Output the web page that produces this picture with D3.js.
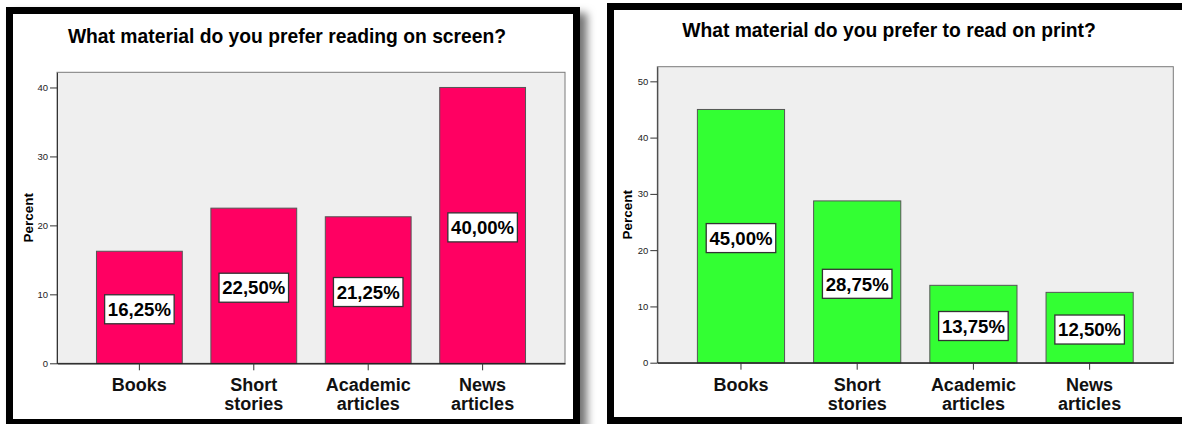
<!DOCTYPE html>
<html>
<head>
<meta charset="utf-8">
<script src="https://cdn.jsdelivr.net/npm/d3@7"></script>
<style>
  html, body { margin: 0; padding: 0; background: #fff; }
  svg { display: block; font-family: "Liberation Sans", Arial, sans-serif; }
</style>
</head>
<body>
<svg id="chart" width="1182" height="424"></svg>
<script>
// Survey answers, percent of respondents
const categories = ["Books", "Short stories", "Academic articles", "News articles"];
const screenPercent = [16.25, 22.5, 21.25, 40.0];
const printPercent = [45.0, 28.75, 13.75, 12.5];
const screenTicks = [0, 10, 20, 30, 40];
const printTicks = [0, 10, 20, 30, 40, 50];
const screenAxisMax = 42.2;
const printAxisMax = 52.6;
const titles = [
  "What material do you prefer reading on screen?",
  "What material do you prefer to read on print?"
];
const yLabel = "Percent";

// Comma as decimal separator for the value labels
const locale = d3.formatLocale({ decimal: ",", thousands: ".", grouping: [3], currency: ["", ""] });
const fmt = v => locale.format(".2f")(v) + "%";

const svg = d3.select("#chart");

const defs = svg.append("defs");
const shadow = defs.append("filter").attr("id", "panelShadow")
  .attr("x", "-10%").attr("y", "-10%").attr("width", "130%").attr("height", "130%");
shadow.append("feDropShadow")
  .attr("dx", 7).attr("dy", 6).attr("stdDeviation", 4)
  .attr("flood-color", "#000").attr("flood-opacity", 0.55);

const panels = [
  {
    values: screenPercent, ticks: screenTicks, yMax: screenAxisMax, title: titles[0],
    fill: "#ff0062",
    frame: { x: 9.5, y: 10.5, w: 567, h: 412 }, shadow: true,
    plot: { x0: 57, x1: 565, y0: 72.3, y1: 363.3 },
    titleX: 287, titleY: 43.3, yLabelX: 28
  },
  {
    values: printPercent, ticks: printTicks, yMax: printAxisMax, title: titles[1],
    fill: "#33ff33",
    frame: { x: 610.5, y: 6.5, w: 600, h: 414 }, shadow: false,
    plot: { x0: 657.3, x1: 1173.3, y0: 66.7, y1: 362.7 },
    titleX: 889, titleY: 36.7, yLabelX: 627
  }
];

panels.forEach(p => {
  const g = svg.append("g");

  // Outer black frame
  g.append("rect")
    .attr("x", p.frame.x).attr("y", p.frame.y)
    .attr("width", p.frame.w).attr("height", p.frame.h)
    .attr("fill", "#fff").attr("stroke", "#000").attr("stroke-width", 7)
    .attr("filter", p.shadow ? "url(#panelShadow)" : null);

  const x = d3.scaleBand()
    .domain(categories)
    .range([p.plot.x0, p.plot.x1])
    .paddingInner(0.25)
    .paddingOuter(0.345);

  const y = d3.scaleLinear()
    .domain([0, p.yMax])
    .range([p.plot.y1, p.plot.y0]);

  // Plot background
  g.append("rect")
    .attr("x", p.plot.x0).attr("y", p.plot.y0)
    .attr("width", p.plot.x1 - p.plot.x0).attr("height", p.plot.y1 - p.plot.y0)
    .attr("fill", "#efefef").attr("stroke", "#7a7a7a").attr("stroke-width", 1);

  // Title
  g.append("text")
    .attr("x", p.titleX).attr("y", p.titleY)
    .attr("text-anchor", "middle")
    .attr("font-size", 19.3).attr("font-weight", "bold").attr("fill", "#000")
    .text(p.title);

  // Y axis
  const yAxis = g.append("g")
    .attr("transform", `translate(${p.plot.x0},0)`)
    .call(d3.axisLeft(y).tickValues(p.ticks).tickSize(7).tickSizeOuter(0).tickPadding(2));
  yAxis.select(".domain").attr("stroke", "#333");
  yAxis.selectAll(".tick line").attr("stroke", "#333");
  yAxis.selectAll(".tick text")
    .attr("font-size", 9.5).attr("fill", "#222")
    .attr("font-family", "'Liberation Sans', Arial, sans-serif");

  g.append("text")
    .attr("transform", `translate(${p.yLabelX},${(p.plot.y0 + p.plot.y1) / 2}) rotate(-90)`)
    .attr("text-anchor", "middle").attr("dy", "0.36em")
    .attr("font-size", 13.5).attr("font-weight", "bold").attr("fill", "#000")
    .text(yLabel);

  // Bars
  g.selectAll("rect.bar")
    .data(p.values)
    .join("rect")
    .attr("class", "bar")
    .attr("x", (d, i) => x(categories[i]))
    .attr("y", d => y(d))
    .attr("width", x.bandwidth())
    .attr("height", d => y(0) - y(d))
    .attr("fill", p.fill)
    .attr("stroke", "#555").attr("stroke-width", 1);

  // X axis
  const xAxis = g.append("g")
    .attr("transform", `translate(0,${p.plot.y1})`)
    .call(d3.axisBottom(x).tickSize(7).tickSizeOuter(0).tickFormat(""));
  xAxis.select(".domain").attr("stroke", "#111").attr("stroke-width", 1.3);
  xAxis.selectAll(".tick line").attr("stroke", "#333");

  // Category labels, wrapped onto two lines
  const labels = g.selectAll("text.cat")
    .data(categories)
    .join("text")
    .attr("class", "cat")
    .attr("x", d => x(d) + x.bandwidth() / 2)
    .attr("y", p.plot.y1 + 28)
    .attr("text-anchor", "middle")
    .attr("font-size", 18).attr("font-weight", "bold").attr("fill", "#111");
  labels.each(function (d) {
    const t = d3.select(this);
    d.split(" ").forEach((w, k) => {
      t.append("tspan")
        .attr("x", x(d) + x.bandwidth() / 2)
        .attr("dy", k === 0 ? 0 : 18.8)
        .text(w);
    });
  });

  // Value labels in boxes at the middle of each bar
  const vl = g.selectAll("g.vlabel")
    .data(p.values)
    .join("g")
    .attr("class", "vlabel")
    .attr("transform", (d, i) =>
      `translate(${x(categories[i]) + x.bandwidth() / 2},${(y(d) + y(0)) / 2 + 2})`);
  vl.append("rect").attr("class", "box");
  vl.append("text")
    .attr("text-anchor", "middle").attr("dy", "0.36em")
    .attr("font-size", 18.6).attr("font-weight", "bold").attr("fill", "#000")
    .text(d => fmt(d));
  vl.each(function () {
    const node = d3.select(this);
    const bb = node.select("text").node().getBBox();
    node.select("rect.box")
      .attr("x", -bb.width / 2 - 3).attr("y", -14.5)
      .attr("width", bb.width + 6).attr("height", 29)
      .attr("fill", "#fff").attr("stroke", "#333").attr("stroke-width", 1.3);
  });
});
</script>
</body>
</html>
